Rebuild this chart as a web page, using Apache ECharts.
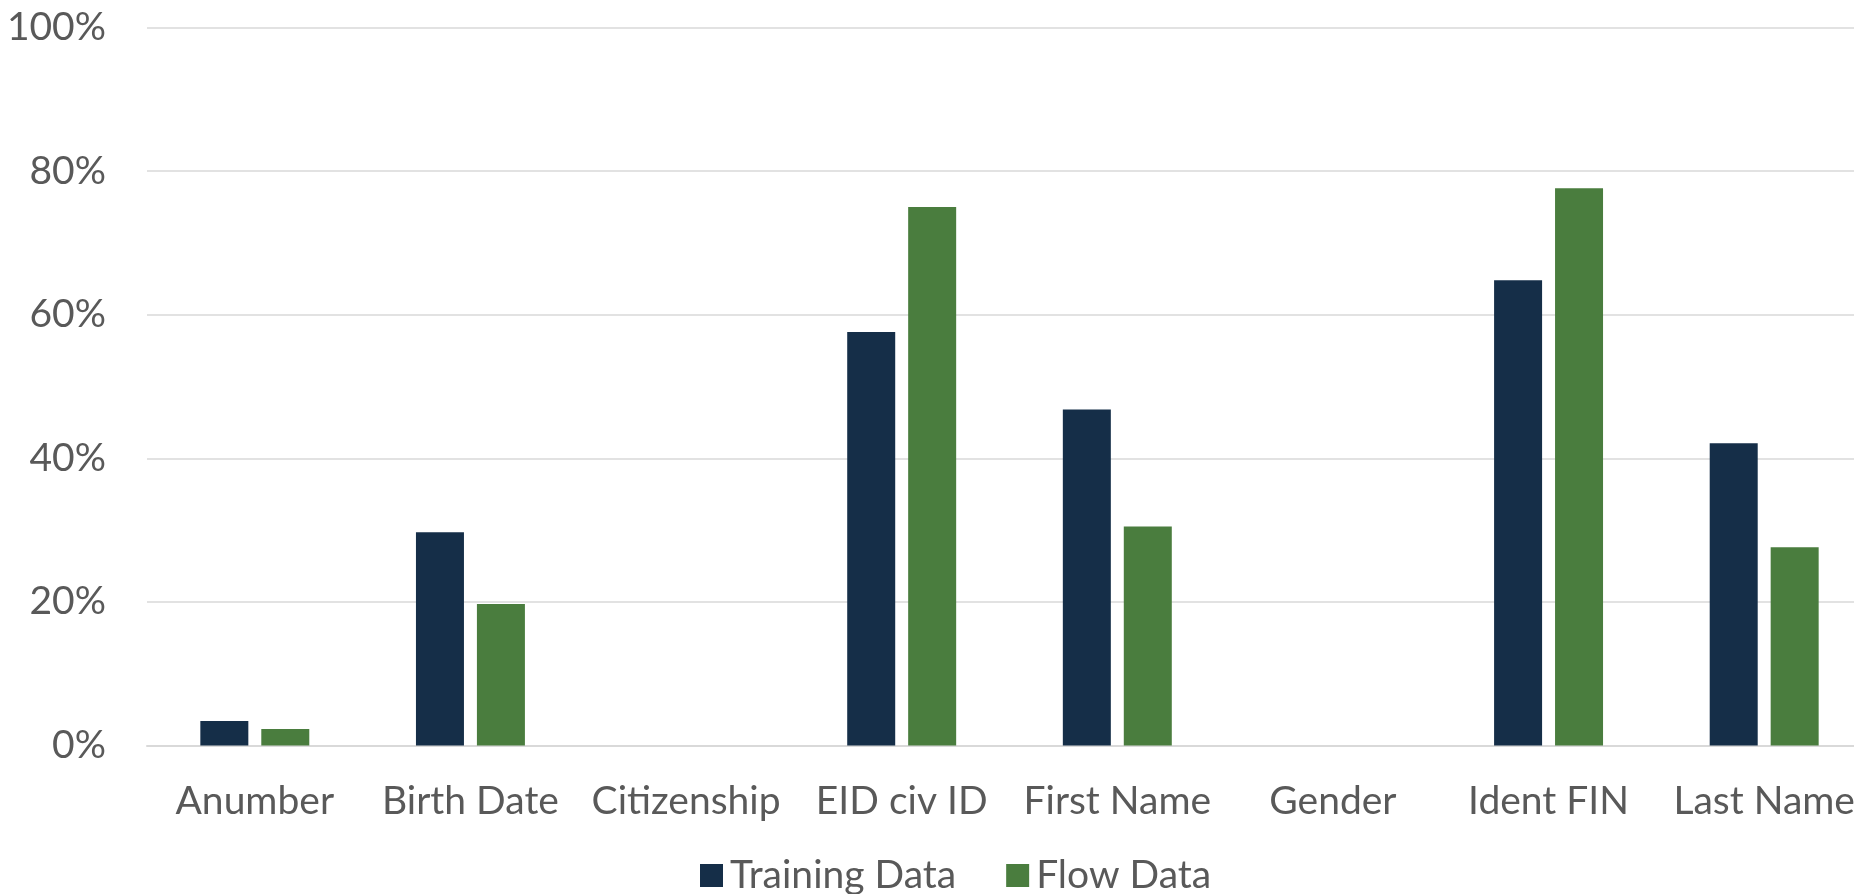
<!DOCTYPE html>
<html>
<head>
<meta charset="utf-8">
<script src="https://cdn.jsdelivr.net/npm/echarts@6/dist/echarts.min.js"></script>
<style>
  html, body { margin: 0; padding: 0; background: #ffffff; }
  #chart { width: 1854px; height: 894px; }
</style>
</head>
<body>
<div id="chart"></div>
<script>
// Field categories along the x axis
const categories = ['Anumber', 'Birth Date', 'Citizenship', 'EID civ ID', 'First Name', 'Gender', 'Ident FIN', 'Last Name'];

// Percentages per field
const trainingData = [3.4, 29.7, 0, 57.6, 46.8, 0, 64.8, 42.1];
const flowData = [2.3, 19.7, 0, 75.0, 30.5, 0, 77.6, 27.6];

// Y axis ticks (percent)
const yMin = 0;
const yMax = 100;
const yStep = 20;

const seriesNames = ['Training Data', 'Flow Data'];

const FONT = 'Lato, "Open Sans", sans-serif';
const TEXT = '#595959';
const GRID = '#d9d9d9';

const chart = echarts.init(document.getElementById('chart'), null, { renderer: 'canvas' });

chart.setOption({
  animation: false,
  backgroundColor: '#ffffff',
  textStyle: { fontFamily: FONT },
  // plot area runs a little past the right edge of the canvas
  grid: {
    left: 147, width: 1725, top: 27.5, bottom: 148.5,
    containLabel: false,
    outerBoundsMode: 'none'
  },
  legend: {
    data: seriesNames,
    left: 695,
    top: 851,
    icon: 'rect',
    itemWidth: 23,
    itemHeight: 23,
    itemGap: 50,
    textStyle: { fontFamily: FONT, fontSize: 39, color: TEXT, padding: [0, 0, 0, 2] }
  },
  xAxis: {
    type: 'category',
    data: categories,
    axisTick: { show: false },
    axisLine: { lineStyle: { color: GRID, width: 2 } },
    axisLabel: { fontFamily: FONT, fontSize: 39, color: TEXT, margin: 36, interval: 0 }
  },
  yAxis: {
    type: 'value',
    min: yMin,
    max: yMax,
    interval: yStep,
    axisLine: { show: false },
    axisTick: { show: false },
    splitLine: { lineStyle: { color: GRID, width: 1.5 } },
    axisLabel: { fontFamily: FONT, fontSize: 39, color: TEXT, margin: 41, formatter: '{value}%' }
  },
  series: [
    {
      name: seriesNames[0],
      type: 'bar',
      data: trainingData,
      barWidth: 48,
      barGap: '27%',
      itemStyle: { color: '#152e48' }
    },
    {
      name: seriesNames[1],
      type: 'bar',
      data: flowData,
      barWidth: 48,
      itemStyle: { color: '#4a7d3e' }
    }
  ]
});
</script>
</body>
</html>
